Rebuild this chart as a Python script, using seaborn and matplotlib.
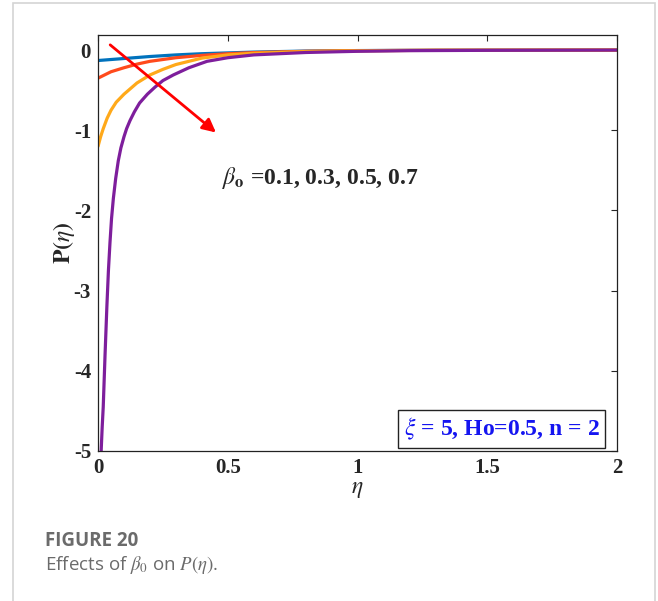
import pandas as pd
import seaborn as sns
import matplotlib.pyplot as plt
from matplotlib.patches import Rectangle

# valeurs
eta_01 = [0.0, 0.1, 0.2, 0.3, 0.4, 0.6, 0.8, 1.0, 1.3, 2.0]
p_01 = [-0.13, -0.105, -0.08, -0.06, -0.045, -0.025, -0.012, -0.006, -0.002, 0.0]

eta_03 = [0.0, 0.05, 0.1, 0.15, 0.2, 0.3, 0.4, 0.5, 0.6, 0.8, 1.0, 1.3, 2.0]
p_03 = [-0.35, -0.27, -0.22, -0.175, -0.14, -0.095, -0.066, -0.045, -0.031, -0.015, -0.007, -0.002, 0.0]

eta_05 = [0.0, 0.01, 0.02, 0.035, 0.05, 0.07, 0.1, 0.15, 0.2, 0.25, 0.3, 0.4, 0.5, 0.6, 0.8, 1.0, 1.3, 2.0]
p_05 = [-1.2, -1.08, -0.98, -0.85, -0.75, -0.65, -0.55, -0.41, -0.31, -0.24, -0.18, -0.10, -0.06,
        -0.04, -0.018, -0.008, -0.003, 0.0]

eta_07 = [0.012, 0.016, 0.02, 0.027, 0.034, 0.04, 0.046, 0.052, 0.059, 0.068, 0.078, 0.088, 0.1,
          0.11, 0.123, 0.14, 0.16, 0.19, 0.22, 0.25, 0.29, 0.35, 0.42, 0.5, 0.6, 0.8, 1.0, 1.2, 1.5, 2.0]
p_07 = [-5.0, -4.7, -4.45, -3.8, -3.2, -2.75, -2.4, -2.1, -1.85, -1.6, -1.38, -1.22, -1.08,
        -0.98, -0.88, -0.77, -0.66, -0.55, -0.46, -0.38, -0.31, -0.22, -0.14, -0.095, -0.06,
        -0.03, -0.015, -0.007, -0.003, 0.0]

beta_vals = ['0.1', '0.3', '0.5', '0.7']
couleurs = ['#0072BD', '#FF4A1C', '#FFA91A', '#7E1E9C']

x_ticks = [0, 0.5, 1, 1.5, 2]
y_ticks = [0, -1, -2, -3, -4, -5]

frames = []
for b, e, p in zip(beta_vals, [eta_01, eta_03, eta_05, eta_07], [p_01, p_03, p_05, p_07]):
    frames.append(pd.DataFrame({'eta': e, 'P': p, 'beta': b}))
df = pd.concat(frames, ignore_index=True)

sns.set_style('white')
plt.rcParams['mathtext.fontset'] = 'stix'
plt.rcParams['font.family'] = ['Liberation Serif', 'DejaVu Serif']

fig = plt.figure(figsize=(6.58, 6.01), dpi=100)
ax = fig.add_axes([0.149, 0.2496, 0.789, 0.6924])

sns.lineplot(data=df, x='eta', y='P', hue='beta', palette=couleurs,
             estimator=None, sort=False, linewidth=2.3, legend=False, ax=ax)

ax.set_xlim(0, 2)
ax.set_ylim(-5, 0.19)
ax.set_xticks(x_ticks)
ax.set_xticklabels(['0', '0.5', '1', '1.5', '2'])
ax.set_yticks(y_ticks)
ax.set_yticklabels(['0', '-1', '-2', '-3', '-4', '-5'])
ax.tick_params(direction='in', top=True, right=True, length=4, width=0.8,
               labelsize=15, pad=5)
for lab in ax.get_xticklabels() + ax.get_yticklabels():
    lab.set_fontweight('bold')
for s in ax.spines.values():
    s.set_color('#222222')
    s.set_linewidth(0.9)

ax.set_xlabel(r'$\eta$', fontsize=17, labelpad=1)
ax.set_ylabel(r'$\mathbf{P(}\eta\mathbf{)}$', fontsize=17, labelpad=-2)

# flèche rouge
ax.annotate('', xy=(0.4625, -1.05), xytext=(0.0385, 0.0875),
            arrowprops=dict(arrowstyle='-|>', color='red', lw=2,
                            mutation_scale=20))

ax.text(0.478, -1.60, r'$\beta_{\mathbf{o}}$ =0.1, 0.3, 0.5, 0.7',
        fontsize=17, fontweight='bold', ha='left', va='center')

ax.text(1.555, -4.72, r'$\xi$ = 5, Ho=0.5, n = 2', fontsize=17,
        fontweight='bold', color='#1515F0', ha='center', va='center',
        bbox=dict(boxstyle='square,pad=0.25', facecolor='white',
                  edgecolor='#222222', linewidth=1))

# cadre de la carte et légende
fig.patches.append(Rectangle((0.0198, -0.02), 0.9752, 1.015, transform=fig.transFigure,
                             fill=False, edgecolor='#d4d4d4', linewidth=1.2))
fig.text(0.068, 0.092, 'FIGURE 20', fontsize=13.5, fontweight='bold',
         color='#6b6b6b', family=['Open Sans', 'DejaVu Sans'])
fig.text(0.068, 0.052, r'Effects of $\beta_0$ on $P(\eta)$.', fontsize=13.5,
         color='#6b6b6b', family=['Open Sans', 'DejaVu Sans'])

fig.savefig('out.png', dpi=100)
